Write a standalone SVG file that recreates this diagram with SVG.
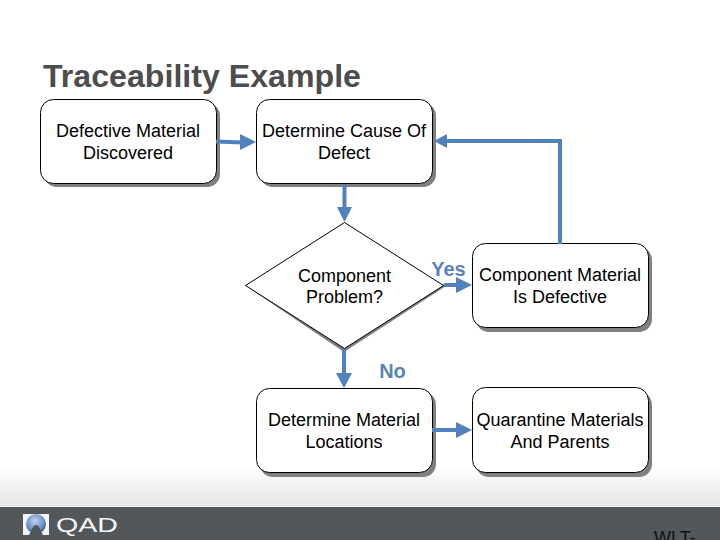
<svg xmlns="http://www.w3.org/2000/svg" width="720" height="540" viewBox="0 0 720 540">
<style>
text{font-family:"Liberation Sans",Arial,sans-serif}
.t{font-size:18px;fill:#000;text-anchor:middle}
.b{fill:#fff;stroke:#000;stroke-width:1}
.s{fill:#808080;stroke:none}
.c{fill:none;stroke:#4f81bd;stroke-width:4}
.a{fill:#4f81bd;stroke:none}
.l{font-size:20px;font-weight:700;fill:#5a84b8;text-anchor:middle}
</style>
<defs>
<linearGradient id="g" x1="0" y1="0" x2="0" y2="1"><stop offset="0" stop-color="#fff"/><stop offset="1" stop-color="#e6e6e6"/></linearGradient>
<radialGradient id="o" cx="0.45" cy="0.35" r="0.7"><stop offset="0" stop-color="#c4d4ec"/><stop offset="0.6" stop-color="#6f93cc"/><stop offset="1" stop-color="#31507f"/></radialGradient>
</defs>
<rect width="720" height="540" fill="#fff"/>
<g id="footer">
<rect x="0" y="465" width="720" height="41" fill="url(#g)"/>
<rect x="0" y="507" width="720" height="33" fill="#54575a"/>
<rect x="23" y="514" width="26" height="21" fill="#f2f4f7"/>
<circle cx="36" cy="524" r="10" fill="url(#o)"/>
<path d="M29 535 L33 527 Q36 523 39 527 L43 535 Z" fill="#54575a"/>
<text x="56" y="532" font-size="21" fill="#f4f4f4" textLength="62" lengthAdjust="spacingAndGlyphs">QAD</text>
<text x="654" y="544" font-size="18" fill="#111">WLT-</text>
</g>
<text id="title" x="43" y="87" font-size="32" font-weight="700" fill="#4d4d4d" textLength="318" lengthAdjust="spacingAndGlyphs">Traceability Example</text>
<g id="n1"><rect class="s" x="44" y="103" width="176" height="84" rx="13"/><rect class="b" x="40.500" y="99.500" width="176" height="84" rx="13"/>
<text class="t" x="128" y="137">Defective Material</text><text class="t" x="128" y="159">Discovered</text></g>
<g id="n2"><rect class="s" x="260" y="103" width="176" height="84" rx="13"/><rect class="b" x="256.500" y="99.500" width="176" height="84" rx="13"/>
<text class="t" x="344" y="137">Determine Cause Of</text><text class="t" x="344" y="159">Defect</text></g>
<g id="n3"><path class="s" d="M246 286L344 352L446 286L443 284L344 348Z"/><path class="b" d="M344.500 222.500L443.500 285.500L344.500 348.500L245.500 285.500Z"/>
<text class="t" x="344.500" y="282">Component</text><text class="t" x="344.500" y="303">Problem?</text></g>
<g id="n4"><rect class="s" x="476" y="247" width="176" height="85" rx="13"/><rect class="b" x="472.500" y="243.500" width="176" height="84" rx="13"/>
<text class="t" x="560" y="281">Component Material</text><text class="t" x="560" y="303">Is Defective</text></g>
<g id="n5"><rect class="s" x="260" y="392" width="176" height="85" rx="13"/><rect class="b" x="256.500" y="388.500" width="176" height="84" rx="13"/>
<text class="t" x="344" y="426">Determine Material</text><text class="t" x="344" y="448">Locations</text></g>
<g id="n6"><rect class="s" x="476" y="392" width="176" height="85" rx="13"/><rect class="b" x="472.500" y="387.500" width="176" height="85" rx="13"/>
<text class="t" x="560" y="426">Quarantine Materials</text><text class="t" x="560" y="448">And Parents</text></g>
<g id="connectors">
<path class="c" d="M216 141.500L242 142.500"/><path class="a" d="M256 142L240 134V150Z"/>
<path class="c" d="M344.500 184V208"/><path class="a" d="M344.500 222L337 207H352Z"/>
<path class="c" d="M560 244V141H445"/><path class="a" d="M434 141L447 134V148Z"/>
<path class="c" d="M444 285H458"/><path class="a" d="M472 285L456 277V293Z"/>
<path class="c" d="M344 349V375"/><path class="a" d="M344 388L336 373H352Z"/>
<path class="c" d="M432 430H458"/><path class="a" d="M472 430L456 422V438Z"/>
</g>
<text class="l" x="448.500" y="276">Yes</text>
<text class="l" x="392.500" y="378">No</text>
</svg>
